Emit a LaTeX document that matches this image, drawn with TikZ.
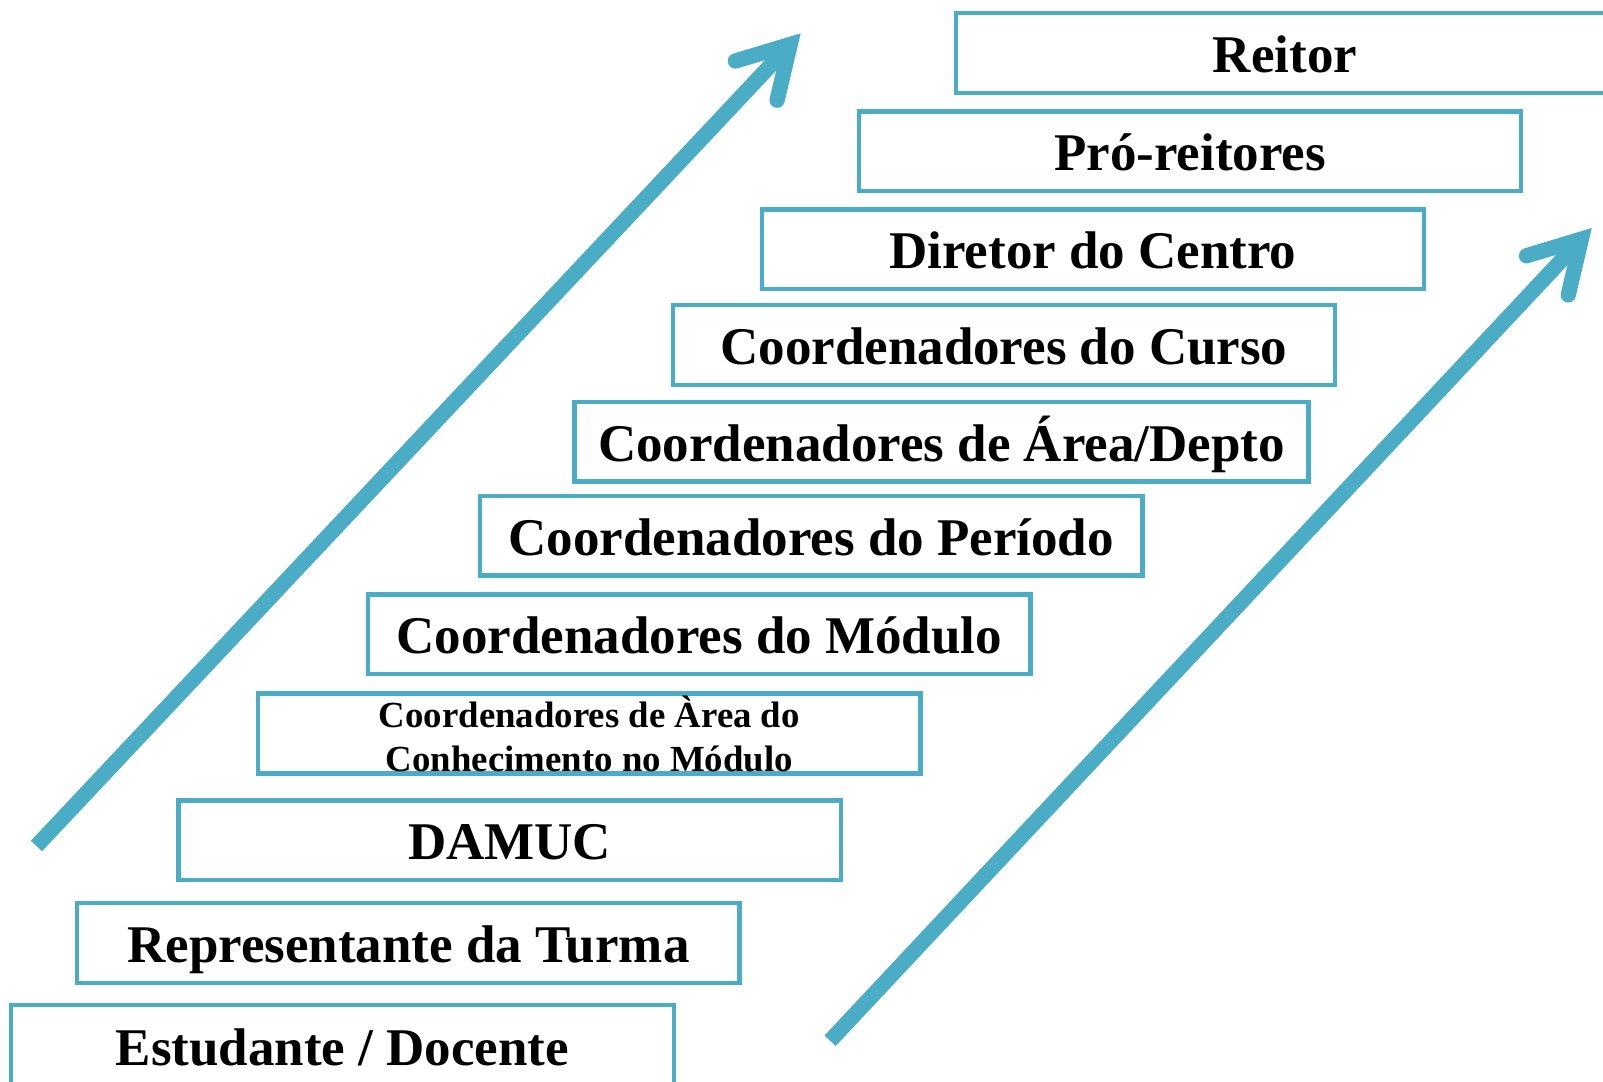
\documentclass[tikz,border=0pt]{standalone}
\usepackage{fontspec}
\setmainfont{Liberation Serif}
\usetikzlibrary{arrows.meta}
\definecolor{azul}{RGB}{75,172,198}
\tikzset{
  rotulo/.style={font=\bfseries\fontsize{29.5}{35}\selectfont,text height=21.6pt,text depth=0pt},
  degrau/.style={draw=azul,line width=0.085cm,minimum width=12.96cm,minimum height=1.56cm,inner sep=0pt,font=\bfseries\fontsize{29.5}{35}\selectfont},
  seta/.style={azul,line width=0.3cm,-{Straight Barb[angle=60:1.12cm,line width=0pt 1,line cap=round,line join=miter]}}
}
\begin{document}
\begin{tikzpicture}[x=0.02cm,y=-0.02cm]
\useasboundingbox (0,0) rectangle (1568,1057.4);
\coordinate (A0) at (35.7,827.5);
\coordinate (A1) at (783.2,32.6);
\coordinate (B0) at (812,1018);
\coordinate (B1) at (1557,223);
\draw[seta] (A0) -- (A1);
\draw[seta] (B0) -- (B1);
\draw[draw=azul,line width=0.085cm] (935,13) rectangle (1700,91);
\node[rotulo] (reitor) at (1257,52) {Reitor};
\node[degrau,rotulo] (pro) at (1164,148) {Pró-reitores};
\node[degrau,rotulo] (diretor) at (1069,244) {Diretor do Centro};
\node[degrau,rotulo] (curso) at (982,337.5) {Coordenadores do Curso};
\node[degrau,rotulo,minimum width=14.36cm] (depto) at (921,432) {Coordenadores de Área/Depto};
\node[degrau,rotulo] (periodo) at (793.5,524) {Coordenadores do Período};
\node[degrau,rotulo] (modulo) at (684,620.5) {Coordenadores do Módulo};
\node[degrau,align=center,font=\bfseries\fontsize{20.5}{24.4}\selectfont] (conhec) at (576.5,717.5) {Coordenadores de Àrea do\\Conhecimento no Módulo};
\node[degrau,rotulo] (damuc) at (498.5,822) {DAMUC};
\node[degrau,rotulo] (turma) at (399.5,922.5) {Representante da Turma};
\draw[draw=azul,line width=0.085cm] (11,983) rectangle (659,1100);
\node[rotulo] (estudante) at (335,1023) {Estudante / Docente};
\end{tikzpicture}
\end{document}
